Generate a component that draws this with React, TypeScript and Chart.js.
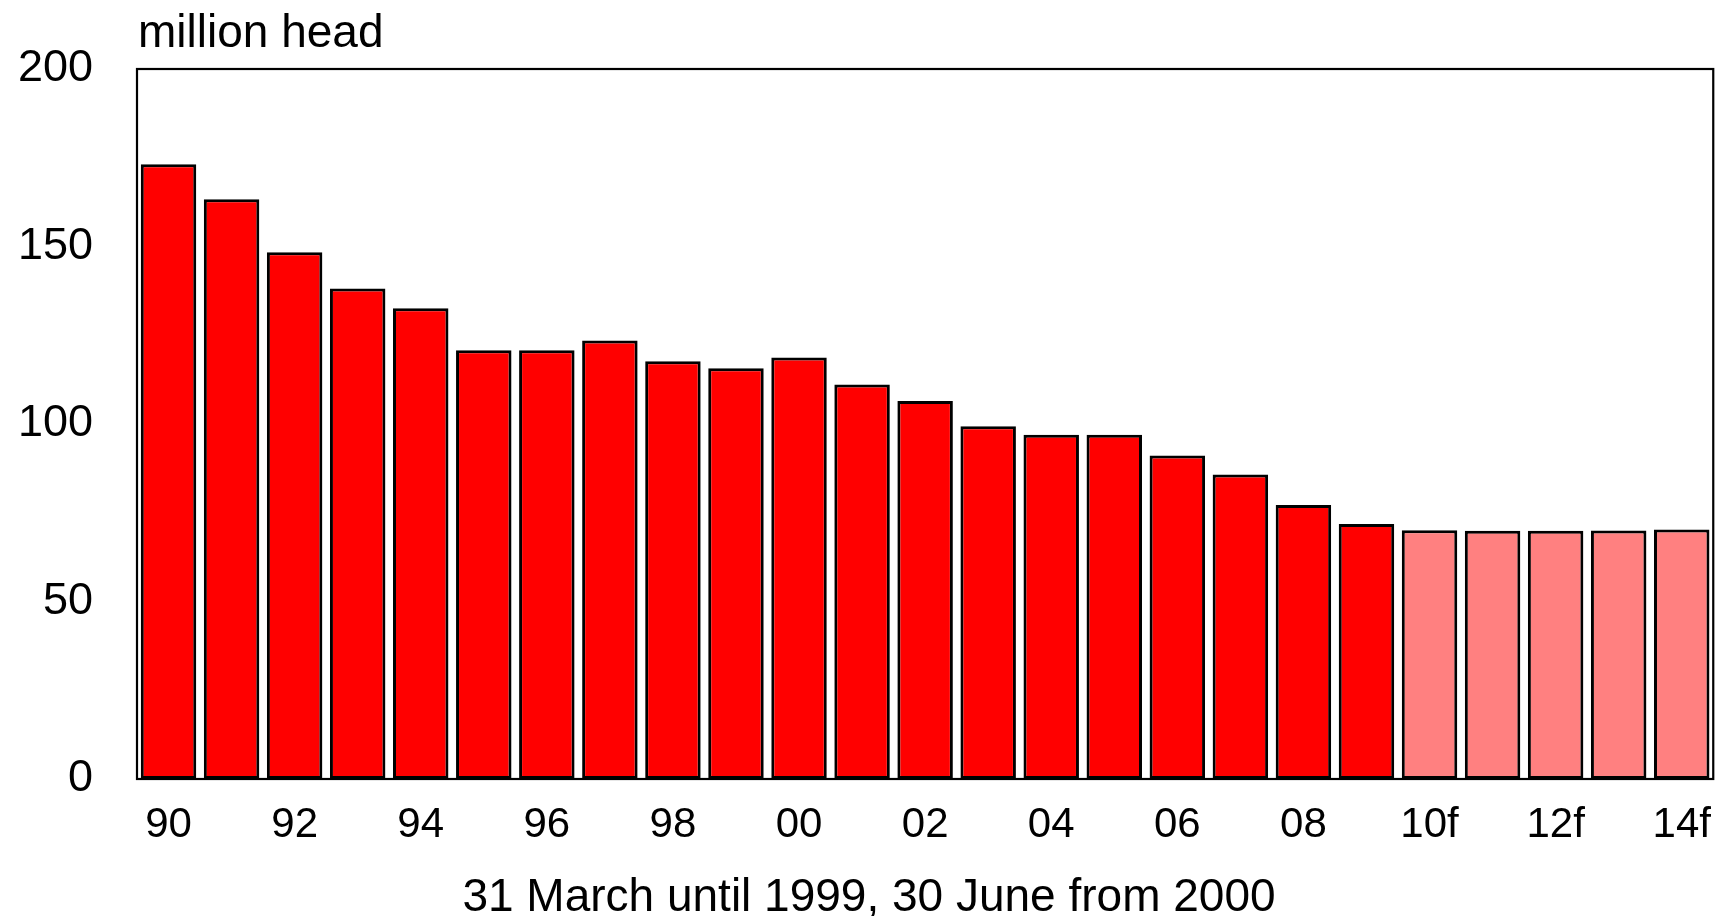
import React, { useEffect, useRef } from "react";
import { Chart, registerables } from "chart.js";

Chart.register(...registerables);

const categories = [
  "90", "91", "92", "93", "94", "95", "96", "97", "98", "99",
  "00", "01", "02", "03", "04", "05", "06", "07", "08", "09",
  "10f", "11f", "12f", "13f", "14f",
];
const values = [
  173.2, 163.3, 148.4, 138.2, 132.6, 120.8, 120.8, 123.5, 117.7, 115.7,
  118.7, 111.1, 106.5, 99.4, 97.0, 97.0, 91.1, 85.8, 77.2, 71.8,
  70.1, 69.9, 69.9, 70.0, 70.3,
];
const isForecast = categories.map((c) => c.endsWith("f"));
const yTicks = [0, 50, 100, 150, 200];
const yUnit = "million head";
const xTitle = "31 March until 1999, 30 June from 2000";

const FONT = "'Liberation Sans', Arial, sans-serif";
const W = 1724;
const H = 916;

export default function App() {
  const ref = useRef<HTMLCanvasElement | null>(null);

  useEffect(() => {
    document.body.style.margin = "0";
    document.documentElement.style.overflow = "hidden";
    document.body.style.overflow = "hidden";
    const canvas = ref.current;
    if (!canvas) return;

    const framePlugin = {
      id: "frameAndTitles",
      afterDatasetsDraw(chart: any) {
        const { ctx, chartArea } = chart;
        ctx.save();
        ctx.strokeStyle = "#000";
        ctx.lineWidth = 2.2;
        ctx.strokeRect(chartArea.left, chartArea.top, chartArea.right - chartArea.left, chartArea.bottom - chartArea.top);
        ctx.fillStyle = "#000";
        ctx.font = `46px ${FONT}`;
        ctx.textAlign = "left";
        ctx.textBaseline = "alphabetic";
        ctx.fillText(yUnit, chartArea.left + 1, 47);
        ctx.textAlign = "center";
        ctx.fillText(xTitle, 869, 911);
        ctx.restore();
      },
    };

    const chart = new Chart(canvas, {
      type: "bar",
      data: {
        labels: categories,
        datasets: [
          {
            data: values,
            backgroundColor: isForecast.map((f) => (f ? "#FF8080" : "#FF0000")),
            borderColor: "#000000",
            borderWidth: 3,
            borderSkipped: false,
            barPercentage: 0.88,
            categoryPercentage: 1,
          },
        ],
      },
      options: {
        animation: false,
        responsive: false,
        maintainAspectRatio: false,
        devicePixelRatio: 1,
        layout: { padding: { left: 0, right: 4, top: 69, bottom: 0 } },
        plugins: {
          legend: { display: false },
          tooltip: { enabled: false },
          title: { display: false },
        },
        scales: {
          x: {
            grid: { display: false },
            border: { display: false },
            ticks: {
              autoSkip: false,
              maxRotation: 0,
              minRotation: 0,
              padding: 13,
              color: "#000",
              font: { family: FONT, size: 42 },
              callback: (_v: any, i: number) => (i % 2 === 0 ? categories[i] : ""),
            },
            afterFit: (scale: any) => {
              scale.height = 137;
            },
          },
          y: {
            min: 0,
            max: 200,
            grid: { display: false },
            border: { display: false },
            afterBuildTicks: (scale: any) => {
              scale.ticks = yTicks.map((v) => ({ value: v }));
            },
            ticks: {
              padding: 36,
              color: "#000",
              font: { family: FONT, size: 45 },
            },
            afterFit: (scale: any) => {
              scale.width = 137;
            },
          },
        },
      },
      plugins: [framePlugin],
    });

    return () => chart.destroy();
  }, []);

  return (
    <div style={{ position: "fixed", left: 0, top: 0, width: W + "px", height: H + "px", background: "#fff" }}>
      <canvas ref={ref} width={W} height={H} style={{ display: "block", width: W + "px", height: H + "px" }} />
    </div>
  );
}
